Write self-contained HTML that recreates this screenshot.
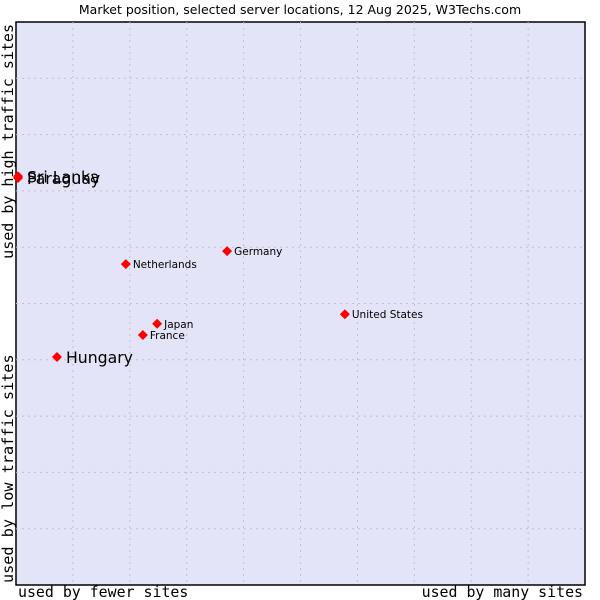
<!DOCTYPE html>
<html><head><meta charset="utf-8"><style>
body{margin:0;background:#fff;}
svg{display:block;font-family:"DejaVu Sans",sans-serif;}
</style></head><body>
<svg width="600" height="600" id="chart">
<text x="300" y="14" text-anchor="middle" font-size="12.5">Market position, selected server locations, 12 Aug 2025, W3Techs.com</text>
<rect x="16" y="22" width="569" height="563" fill="#e4e4f8" stroke="#000" stroke-width="1.5"/>
<g id="grid"></g>
<g id="pts"></g>
<text x="18" y="597" font-family="'DejaVu Sans Mono',monospace" font-size="14.9">used by fewer sites</text>
<text x="583" y="597" text-anchor="end" font-family="'DejaVu Sans Mono',monospace" font-size="14.9">used by many sites</text>
<text transform="translate(13,583) rotate(-90)" font-family="'DejaVu Sans Mono',monospace" font-size="15.2">used by low traffic sites</text>
<text transform="translate(13,24) rotate(-90)" text-anchor="end" font-family="'DejaVu Sans Mono',monospace" font-size="15">used by high traffic sites</text>
</svg>
<script>
const names=["Sri Lanka","Paraguay","Hungary","Netherlands","Germany","United States","Japan","France"];
const xs=[0.35,0.35,7.2,19.3,37.1,57.8,24.8,22.3];
const ys=[72.6,72.3,40.5,57.0,59.3,48.1,46.4,44.4];
const big=[1,1,1,0,0,0,0,0];
const ns="http://www.w3.org/2000/svg";
const X=v=>16+v/100*569, Y=v=>585-v/100*563;
const g=document.getElementById('grid');
for(let i=1;i<10;i++){
 const l=document.createElementNS(ns,'line');
 
 
 l.setAttribute('x1',X(i*10));l.setAttribute('x2',X(i*10));l.setAttribute('y1',22);l.setAttribute('y2',585);
 l.setAttribute('stroke','#c0c0c8');l.setAttribute('stroke-dasharray','2,4');g.appendChild(l);
 const h=document.createElementNS(ns,'line');
 
 
 h.setAttribute('y1',Y(i*10));h.setAttribute('y2',Y(i*10));h.setAttribute('x1',16);h.setAttribute('x2',585);
 h.setAttribute('stroke','#c0c0c8');h.setAttribute('stroke-dasharray','2,4');g.appendChild(h);
}
const p=document.getElementById('pts');
names.forEach((n,i)=>{
 const x=X(xs[i]),y=Y(ys[i]);
 const d=document.createElementNS(ns,'path');
 
 
 d.setAttribute('d',`M${x-5},${y}L${x},${y-5}L${x+5},${y}L${x},${y+5}Z`);
 d.setAttribute('fill','#f00');p.appendChild(d);
 const t=document.createElementNS(ns,'text');
 
 
 t.setAttribute('x',x+(big[i]?9:7));t.setAttribute('y',y+(big[i]?6:4));
 t.setAttribute('font-size',big[i]?15.7:10.5);t.textContent=n;p.appendChild(t);
});
</script>
</body></html>
